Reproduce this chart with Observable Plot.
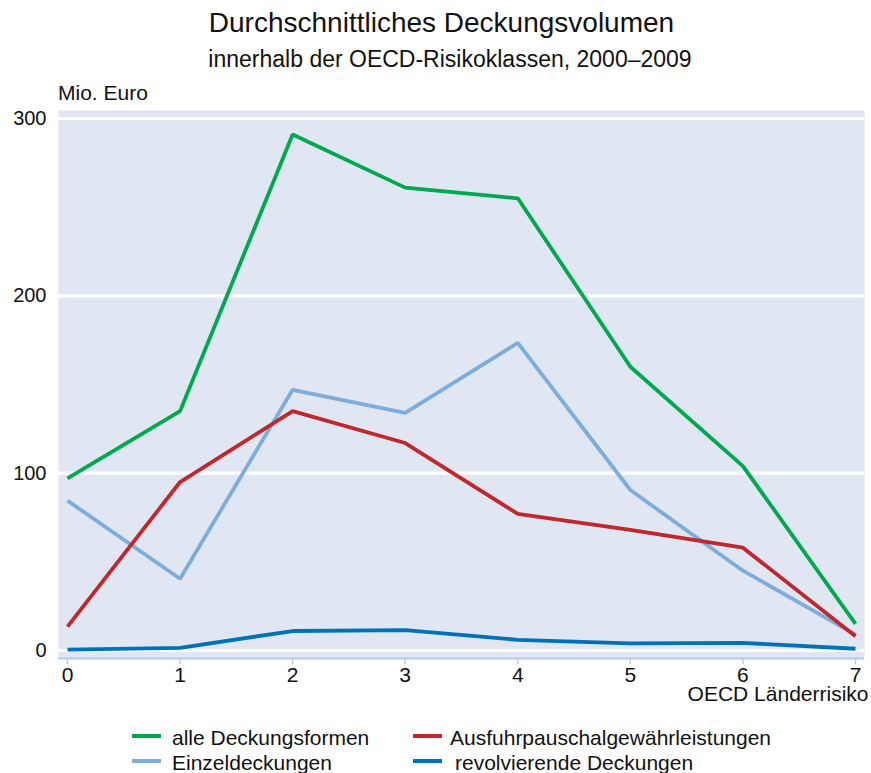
<!DOCTYPE html>
<html>
<head>
<meta charset="utf-8">
<script src="https://cdn.jsdelivr.net/npm/d3@7"></script>
<script src="https://cdn.jsdelivr.net/npm/@observablehq/plot@0.6"></script>
<style>
  body { margin: 0; background: #fff; font-family: "Liberation Sans", Arial, sans-serif; }
  #wrap { position: relative; width: 871px; height: 773px; overflow: hidden; }
  #chart { position: absolute; left: 0; top: 0; }
  .t { position: absolute; white-space: nowrap; color: #111; line-height: 1.15; }
  .sw { position: absolute; width: 29px; height: 4px; }
</style>
</head>
<body>
<div id="wrap">
  <div id="chart"></div>
  <div class="t" id="title" style="left:0;width:871px;text-align:center;top:7px;font-size:28px;padding-left:12px;box-sizing:border-box;">Durchschnittliches Deckungsvolumen</div>
  <div class="t" id="subtitle" style="left:0;width:871px;text-align:center;top:46px;font-size:23px;padding-left:29px;box-sizing:border-box;">innerhalb der OECD-Risikoklassen, 2000–2009</div>
  <div class="t" style="left:58px;top:81px;font-size:21px;">Mio. Euro</div>
  <div id="legend"></div>
</div>
<script>
const riskClasses = [0, 1, 2, 3, 4, 5, 6, 7];
const seriesNames = ["alle Deckungsformen", "Ausfuhrpauschalgewährleistungen", "Einzeldeckungen", "revolvierende Deckungen"];
const seriesColors = ["#00a84f", "#c1272d", "#7eadd9", "#0072bb"];
const alleDeckungsformen = [97, 135, 291, 261, 255, 160, 104, 15];
const ausfuhrpauschal = [13.5, 95, 135, 117, 77, 68, 58, 8];
const einzeldeckungen = [84.5, 40.5, 147, 134, 173.5, 90.5, 45, 9];
const revolvierend = [0.5, 1.5, 11, 11.5, 6, 4, 4.3, 1];
const yTicks = [0, 100, 200, 300];

const valuesBySeries = [alleDeckungsformen, ausfuhrpauschal, einzeldeckungen, revolvierend];
const data = [];
seriesNames.forEach((s, i) => riskClasses.forEach((x, j) => data.push({series: s, x, y: valuesBySeries[i][j]})));
const drawOrder = [2, 1, 0, 3];

const lineMarks = drawOrder.map(i => Plot.line(data.filter(d => d.series === seriesNames[i]), {
  x: "x", y: "y", stroke: seriesColors[i], strokeWidth: 3.8, strokeLinejoin: "miter", strokeLinecap: "butt"
}));

const chart = Plot.plot({
  width: 871,
  height: 773,
  marginTop: 110,
  marginBottom: 115,
  marginLeft: 58,
  marginRight: 7,
  style: {fontFamily: "Liberation Sans, Arial, sans-serif", background: "transparent"},
  x: {domain: [-0.08, 7.08], axis: null},
  y: {domain: [-4.5, 304.5], axis: null},
  marks: [
    Plot.frame({fill: "#e0e7f3", stroke: null}),
    Plot.ruleY(yTicks, {stroke: "#fff", strokeWidth: 3.2}),
    Plot.axisY(yTicks, {tickSize: 0, tickPadding: 12, fontSize: 20, fill: "#111", label: null}),
    Plot.ruleY([-4.5], {stroke: "#b3cce8", strokeWidth: 1.8}),
    Plot.axisX(riskClasses, {tickSize: 6, stroke: "#b3cce8", strokeWidth: 1.4, tickPadding: 3, fontSize: 21, fill: "#111", label: null, tickFormat: d => String(d)}),
    Plot.text(["OECD Länderrisiko"], {frameAnchor: "bottom-right", dx: 4, dy: 42, fontSize: 21, fill: "#111", textAnchor: "end"}),
    ...lineMarks
  ]
});
document.getElementById("chart").appendChild(chart);

// legend
const legend = document.getElementById("legend");
const legendPos = [[132, 726], [413, 726], [132, 751], [413, 751]];
const legendTextX = [172, 450, 172, 455];
seriesNames.forEach((s, i) => {
  const [lx, ly] = legendPos[i];
  const sw = document.createElement("div");
  sw.className = "sw";
  sw.style.left = lx + "px"; sw.style.top = (ly + 8) + "px"; sw.style.background = seriesColors[i];
  legend.appendChild(sw);
  const t = document.createElement("div");
  t.className = "t";
  t.style.left = legendTextX[i] + "px"; t.style.top = ly + "px"; t.style.fontSize = "21px";
  t.textContent = s;
  legend.appendChild(t);
});
</script>
</body>
</html>
